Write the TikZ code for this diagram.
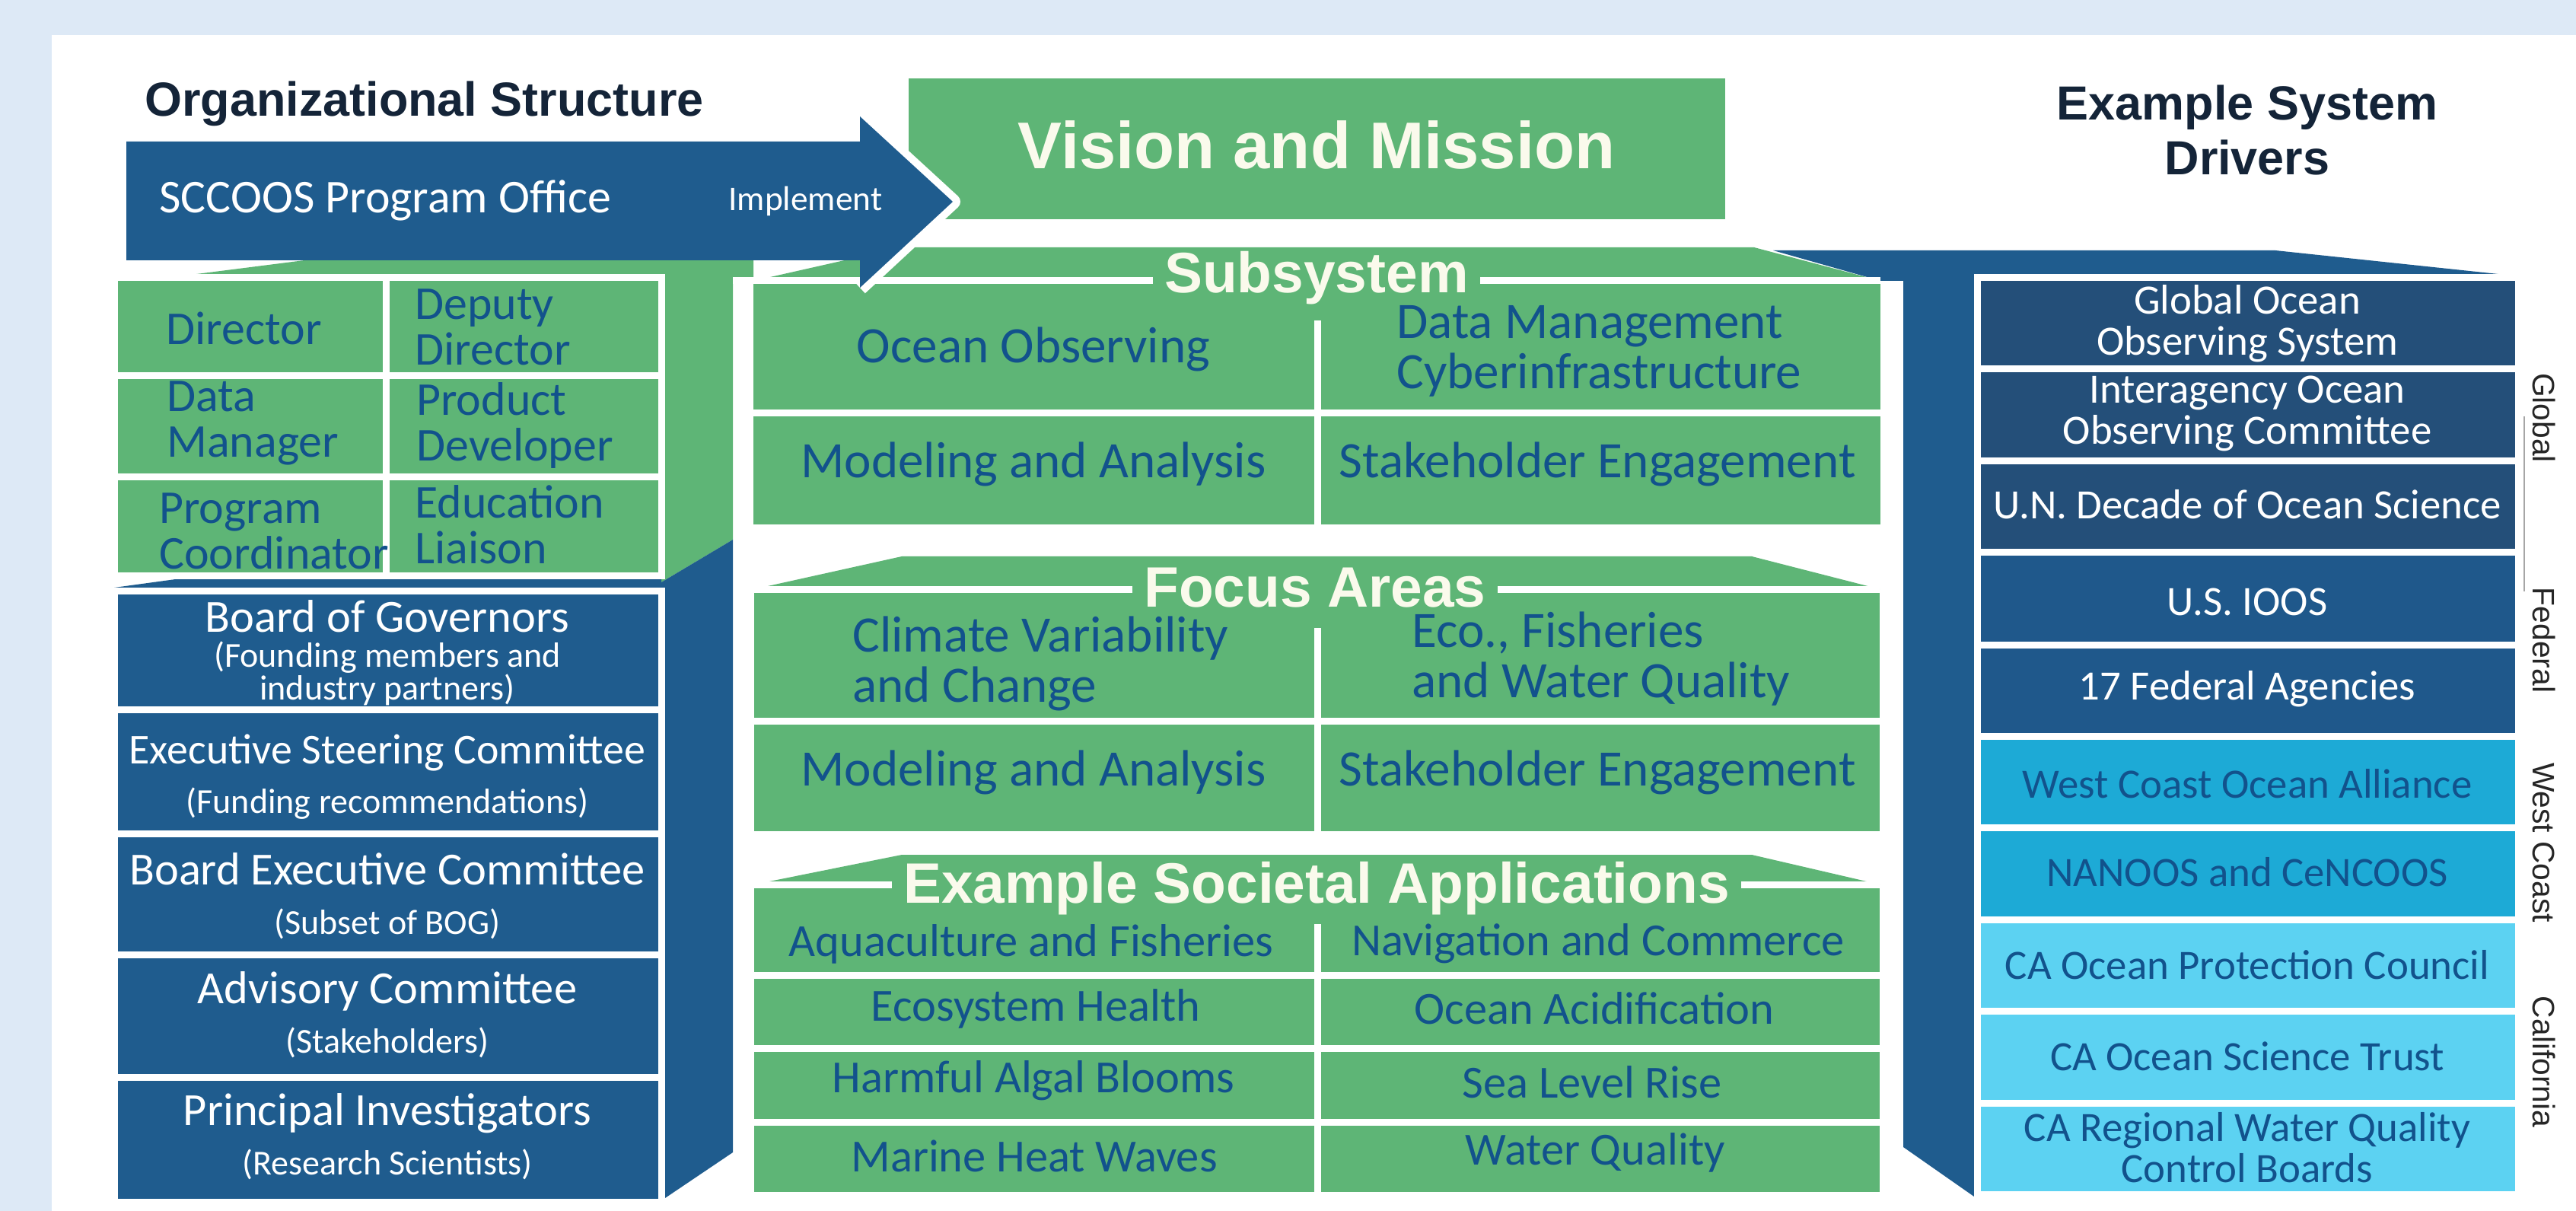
\documentclass[tikz,border=0pt]{standalone}
\usepackage{fontspec}
\setmainfont{Carlito}
\newfontfamily\headfont{Liberation Sans}

\definecolor{framebg}{RGB}{221,233,246}
\definecolor{sgreen}{RGB}{94,181,118}
\definecolor{sblue}{RGB}{31,92,142}
\definecolor{gblue}{RGB}{36,79,121}
\definecolor{fblue}{RGB}{31,88,139}
\definecolor{wcyan}{RGB}{29,170,214}
\definecolor{ccyan}{RGB}{92,210,242}
\definecolor{textblue}{RGB}{18,82,140}
\definecolor{headink}{RGB}{20,36,56}
\definecolor{cream}{RGB}{250,250,236}
\definecolor{labelgray}{RGB}{38,38,38}

\newcommand{\boardsub}{\fontsize{13.1}{18.5}\selectfont}

\tikzset{
    divider/.style={draw=white, line width=0.9mm},
    heading/.style={font=\headfont\bfseries\fontsize{17.9}{20.5}\selectfont, text=headink},
    sectitle/.style={font=\headfont\bfseries\fontsize{21.3}{24}\selectfont, text=cream,
        fill=sgreen, inner xsep=1.5mm, inner ysep=0pt, anchor=base},
    areatext/.style={font=\fontsize{19.1}{18.8}\selectfont, text=textblue},
    apptext/.style={font=\fontsize{17.2}{18}\selectfont, text=textblue},
    stafftext/.style={font=\fontsize{17.6}{17.1}\selectfont, text=textblue, align=left, anchor=west},
    boardtext/.style={font=\fontsize{17.2}{18.5}\selectfont, text=white, align=center},
    drivertext/.style={font=\fontsize{15.6}{15.4}\selectfont, align=center},
    sidelabel/.style={font=\headfont\fontsize{11.6}{12}\selectfont, text=labelgray, rotate=-90},
}

\begin{document}
\begin{tikzpicture}[x=1cm, y=-1cm]
    \useasboundingbox (0,0) rectangle (33.85,15.91);
    \fill[framebg] (0,0) rectangle (33.85,15.91);
    \fill[white] (0.68,0.46) rectangle (33.85,15.91);

    % column headings
    \node[heading, anchor=base west] (orghead) at (1.78,1.53) {Organizational Structure};
    \node[heading, align=center] (drivershead) at (29.53,1.71) {Example System\\Drivers};

    % blue slab behind the drivers column
    \fill[sblue] (23.30,3.29) -- (29.90,3.29) -- (33.11,3.63) -- (25.94,3.63) -- (25.94,15.72)
        -- (25.01,15.07) -- (25.01,3.69) -- (24.71,3.69) -- cycle;

    % faces of the organization column
    \fill[sgreen] (2.27,3.64) -- (4.00,3.42) -- (8.69,3.42) -- (8.69,3.64) -- cycle;
    \fill[sgreen] (8.69,3.42) -- (9.90,3.42) -- (9.90,3.69) -- (9.63,3.69) -- (9.63,7.09) -- (8.69,7.65) -- cycle;
    \fill[sblue] (8.69,7.65) -- (9.63,7.09) -- (9.63,15.14) -- (8.71,15.76) -- cycle;
    \fill[sblue] (1.50,7.72) -- (2.60,7.57) -- (8.69,7.57) -- (8.69,7.74) -- (1.50,7.74) -- cycle;

    % staff grid
    \fill[sgreen] (1.50,3.65) rectangle (8.69,7.56);
    \draw[divider] (1.50,3.65) rectangle (8.69,7.56);
    \draw[divider] (5.07,3.65) -- (5.07,7.56);
    \draw[divider] (1.50,4.94) -- (8.69,4.94);
    \draw[divider] (1.50,6.27) -- (8.69,6.27);
    \node[stafftext] (director) at (2.06,4.31) {Director};
    \node[stafftext] (deputy) at (5.33,4.30) {Deputy\\Director};
    \node[stafftext] (datamgr) at (2.07,5.56) {Data\\Manager};
    \node[stafftext] (product) at (5.35,5.59) {Product\\Developer};
    \node[stafftext] (progcoord) at (1.97,6.98) {Program\\Coordinator};
    \node[stafftext] (eduliaison) at (5.33,6.89) {Education\\Liaison};

    % boards and committees
    \fill[sblue] (1.50,7.76) rectangle (8.69,15.79);
    \draw[divider] (1.50,7.76) rectangle (8.69,15.79);
    \draw[divider] (1.50,9.32) -- (8.69,9.32);
    \draw[divider] (1.50,10.95) -- (8.69,10.95);
    \draw[divider] (1.50,12.54) -- (8.69,12.54);
    \draw[divider] (1.50,14.15) -- (8.69,14.15);
    \node[boardtext] (bog) at (5.09,8.58) {Board of Governors\\[-5.5pt]{\boardsub (Founding members and}\\[-6.3pt]{\boardsub industry partners)}};
    \node[boardtext] (esc) at (5.09,10.21) {{\fontsize{15.9}{18.5}\selectfont Executive Steering Committee}\\{\boardsub (Funding recommendations)}};
    \node[boardtext] (bec) at (5.09,11.77) {Board Executive Committee\\{\boardsub (Subset of BOG)}};
    \node[boardtext] (advisory) at (5.09,13.33) {Advisory Committee\\{\boardsub (Stakeholders)}};
    \node[boardtext] (pis) at (5.09,14.93) {Principal Investigators\\{\boardsub (Research Scientists)}};

    % vision and mission
    \fill[sgreen] (11.94,1.03) rectangle (22.67,2.88);
    \node[font=\headfont\bfseries\fontsize{24.7}{28}\selectfont, text=cream] (vision) at (17.30,1.90) {Vision and Mission};

    % subsystem block
    \fill[sgreen] (9.90,3.69) -- (11.85,3.25) -- (23.05,3.25) -- (24.71,3.69) -- cycle;
    \fill[sgreen] (9.90,3.69) rectangle (24.71,6.89);
    \draw[divider] (9.63,3.69) -- (24.71,3.69);
    \draw[divider] (17.31,4.21) -- (17.31,6.89);
    \draw[divider] (9.90,5.43) -- (24.71,5.43);
    \node[sectitle] (subsystem) at (17.30,3.85) {Subsystem};
    \node[areatext] (oceanobs) at (13.58,4.59) {Ocean Observing};
    \node[areatext, align=left, anchor=west] (datamgmt) at (18.23,4.61) {Data Management\\Cyberinfrastructure};
    \node[areatext] (modelsub) at (13.58,6.10) {Modeling and Analysis};
    \node[areatext] (stakesub) at (20.99,6.10) {Stakeholder Engagement};

    % focus areas block
    \fill[sgreen] (9.91,7.74) -- (11.85,7.31) -- (23.02,7.31) -- (24.70,7.74) -- cycle;
    \fill[sgreen] (9.91,7.74) rectangle (24.70,10.92);
    \draw[divider] (9.91,7.74) -- (24.70,7.74);
    \draw[divider] (17.31,8.25) -- (17.31,10.92);
    \draw[divider] (9.91,9.47) -- (24.70,9.47);
    \node[sectitle] (focus) at (17.28,7.97) {Focus Areas};
    \node[areatext, align=left, anchor=west] (climate) at (11.08,8.72) {Climate Variability\\and Change};
    \node[areatext, align=left, anchor=west] (ecofish) at (18.43,8.66) {Eco., Fisheries\\and Water Quality};
    \node[areatext] (modelfocus) at (13.58,10.15) {Modeling and Analysis};
    \node[areatext] (stakefocus) at (20.99,10.15) {Stakeholder Engagement};

    % societal applications block
    \fill[sgreen] (9.91,11.62) -- (11.85,11.23) -- (23.02,11.23) -- (24.70,11.62) -- cycle;
    \fill[sgreen] (9.91,11.62) rectangle (24.70,15.66);
    \draw[divider] (9.91,11.62) -- (24.70,11.62);
    \draw[divider] (17.31,12.14) -- (17.31,15.66);
    \draw[divider] (9.91,12.81) -- (24.70,12.81);
    \draw[divider] (9.91,13.77) -- (24.70,13.77);
    \draw[divider] (9.91,14.74) -- (24.70,14.74);
    \node[sectitle] (applications) at (17.30,11.86) {Example Societal Applications};
    \node[apptext] (aquaculture) at (13.55,12.40) {Aquaculture and Fisheries};
    \node[apptext] (navigation) at (21.00,12.40) {Navigation and Commerce};
    \node[apptext] (ecohealth) at (13.61,13.25) {Ecosystem Health};
    \node[apptext] (acidification) at (20.95,13.25) {Ocean Acidification};
    \node[apptext] (habs) at (13.58,14.20) {Harmful Algal Blooms};
    \node[apptext] (sealevel) at (20.92,14.22) {Sea Level Rise};
    \node[apptext] (heatwaves) at (13.59,15.19) {Marine Heat Waves};
    \node[apptext] (waterquality) at (20.96,15.14) {Water Quality};

    % system drivers column
    \fill[gblue] (25.98,3.65) rectangle (33.09,7.26);
    \fill[fblue] (25.98,7.26) rectangle (33.09,9.67);
    \fill[wcyan] (25.98,9.67) rectangle (33.09,12.08);
    \fill[ccyan] (25.98,12.08) rectangle (33.09,15.69);
    \draw[divider] (25.98,3.65) rectangle (33.09,15.69);
    \draw[divider] (25.98,4.85) -- (33.09,4.85);
    \draw[divider] (25.98,6.06) -- (33.09,6.06);
    \draw[divider] (25.98,7.26) -- (33.09,7.26);
    \draw[divider] (25.98,8.47) -- (33.09,8.47);
    \draw[divider] (25.98,9.67) -- (33.09,9.67);
    \draw[divider] (25.98,10.87) -- (33.09,10.87);
    \draw[divider] (25.98,12.08) -- (33.09,12.08);
    \draw[divider] (25.98,13.28) -- (33.09,13.28);
    \draw[divider] (25.98,14.49) -- (33.09,14.49);
    \node[drivertext, text=white] (goos) at (29.53,4.25) {Global Ocean\\Observing System};
    \node[drivertext, text=white] (iooc) at (29.53,5.43) {Interagency Ocean\\Observing Committee};
    \node[drivertext, text=white] (undecade) at (29.53,6.63) {U.N. Decade of Ocean Science};
    \node[drivertext, text=white] (usioos) at (29.53,7.91) {U.S. IOOS};
    \node[drivertext, text=white] (fedagencies) at (29.53,9.05) {17 Federal Agencies};
    \node[drivertext, text=textblue] (wcoa) at (29.53,10.30) {West Coast Ocean Alliance};
    \node[drivertext, text=textblue] (nanoos) at (29.53,11.46) {NANOOS and CeNCOOS};
    \node[drivertext, text=textblue] (opc) at (29.53,12.68) {CA Ocean Protection Council};
    \node[drivertext, text=textblue] (ost) at (29.53,13.88) {CA Ocean Science Trust};
    \node[drivertext, text=textblue] (rwqcb) at (29.53,15.08) {CA Regional Water Quality\\Control Boards};

    % scope labels
    \draw[black!35, line width=0.2mm] (33.17,5.47) -- (33.17,7.77);
    \node[sidelabel] (globallbl) at (33.43,5.49) {Global};
    \node[sidelabel] (federallbl) at (33.43,8.41) {Federal};
    \node[sidelabel] (westcoastlbl) at (33.43,11.07) {West Coast};
    \node[sidelabel] (californialbl) at (33.43,13.95) {California};

    % program office arrow
    \draw[white, line width=2mm, line join=round] (11.30,1.53) -- (12.52,2.65) -- (11.30,3.78);
    \fill[sblue] (1.66,1.86) -- (11.30,1.86) -- (11.30,1.53) -- (12.52,2.65) -- (11.30,3.78)
        -- (11.30,3.42) -- (1.66,3.42) -- cycle;
    \node[font=\fontsize{17.6}{20}\selectfont, text=white, anchor=west] (sccoos) at (1.97,2.63) {SCCOOS Program Office};
    \node[font=\fontsize{12.9}{15}\selectfont, text=white, anchor=west] (implement) at (9.45,2.64) {Implement};
\end{tikzpicture}
\end{document}
